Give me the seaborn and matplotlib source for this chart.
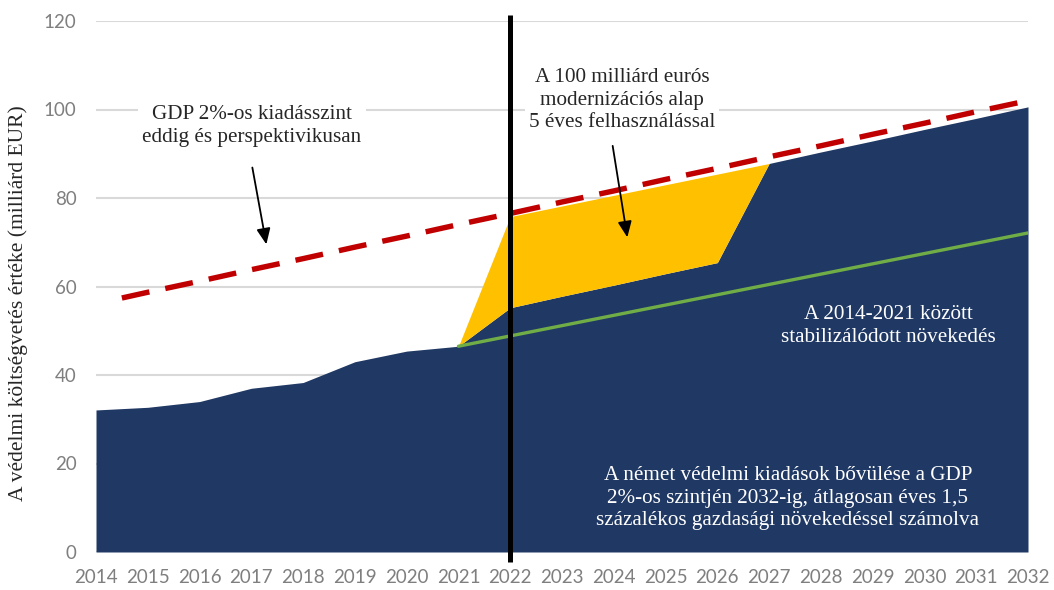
import numpy as np
import pandas as pd
import matplotlib
matplotlib.use("Agg")
import matplotlib.pyplot as plt
import seaborn as sns

# ---- data (billion EUR) ----
years = list(range(2014, 2033))
base_spend = [32.1, 32.7, 34.0, 37.0, 38.3, 43.0, 45.4, 46.5, 55.2, 57.8, 60.3,
              62.9, 65.4, 87.8, 90.4, 92.9, 95.5, 98.0, 100.6]
fund_years = [2021, 2022, 2023, 2024, 2025, 2026, 2027]
fund_top = [46.5, 75.8, 78.2, 80.6, 83.0, 85.4, 87.8]
gdp2_years = [2014.5] + list(range(2015, 2033))
gdp2_level = [57.4, 58.7, 61.2, 63.8, 66.3, 68.9, 71.4, 74.0, 76.5, 79.1, 81.6,
              84.2, 86.7, 89.3, 91.8, 94.4, 96.9, 99.5, 102.0]
trend_years = [2021, 2032]
trend_level = [46.5, 72.1]
cut_year = 2022
y_ticks = [0, 20, 40, 60, 80, 100, 120]

txt_gdp = "GDP 2%-os kiadásszint\neddig és perspektivikusan"
txt_fund = "A 100 milliárd eurós\nmodernizációs alap\n5 éves felhasználással"
txt_trend = "A 2014-2021 között\nstabilizálódott növekedés"
txt_main = ("A német védelmi kiadások bővülése a GDP\n"
            "2%-os szintjén 2032-ig, átlagosan éves 1,5\n"
            "százalékos gazdasági növekedéssel számolva")
ylabel = "A védelmi költségvetés értéke (milliárd EUR)"

NAVY = "#1f3864"
YELLOW = "#ffc000"
RED = "#c00000"
GREEN = "#70ad47"
GRID = "#d9d9d9"
TICK = "#7f7f7f"

sns.set_theme(style="white")
plt.rcParams["font.family"] = ["Lato", "DejaVu Sans"]
SERIF = ["Liberation Serif", "DejaVu Serif"]

fig = plt.figure(figsize=(10.54, 5.90), dpi=100)
ax = fig.add_axes([96 / 1054, 1 - 552 / 590, (1028 - 96) / 1054, (552 - 21) / 590])

base_df = pd.DataFrame({"year": years, "value": base_spend})
fund_df = pd.DataFrame({"year": fund_years, "value": fund_top})
fund_df["lower"] = fund_df["year"].map(dict(zip(years, base_spend)))
gdp_df = pd.DataFrame({"year": gdp2_years, "value": gdp2_level})
trend_df = pd.DataFrame({"year": trend_years, "value": trend_level})

# gridlines
for t in y_ticks:
    ax.axhline(t, color=GRID, lw=1.5, zorder=0)

ax.fill_between(base_df["year"], 0, base_df["value"], color=NAVY, lw=0, zorder=2)
ax.fill_between(fund_df["year"], fund_df["lower"], fund_df["value"], color=YELLOW,
                lw=0, zorder=2.5)

sns.lineplot(data=trend_df, x="year", y="value", color=GREEN, lw=2.4, ax=ax, zorder=3)
sns.lineplot(data=gdp_df, x="year", y="value", color=RED, lw=3.9, ax=ax, zorder=4,
             dashes=False)
ax.lines[-1].set_dashes([5.2, 3.0])

ax.plot([cut_year, cut_year], [-2.3, 121.3], color="black", lw=3.6, zorder=6,
        clip_on=False, solid_capstyle="butt")

ax.set_xlim(2014, 2032)
ax.set_ylim(0, 120)
ax.set_xticks(years)
ax.set_xticklabels([str(y) for y in years])
ax.set_yticks(y_ticks)
ax.tick_params(axis="both", length=0, labelsize=13.5, labelcolor=TICK)
ax.tick_params(axis="y", pad=14)
ax.tick_params(axis="x", pad=12)
ax.set_xlabel("")
ax.set_ylabel("")
for s in ax.spines.values():
    s.set_visible(False)

fig.text(18 / 1054, 1 - 303 / 590, ylabel, rotation=90, ha="center", va="center",
         fontsize=15.5, family=SERIF, color="#262626")

ax.text(2017.01, 96.3, txt_gdp, ha="center", va="center", fontsize=15.2,
        family=SERIF, color="#262626", linespacing=1.25, zorder=7,
        bbox=dict(facecolor="white", edgecolor="none", pad=3))
ax.text(2024.16, 102.1, txt_fund, ha="center", va="center", fontsize=15.2,
        family=SERIF, color="#262626", linespacing=1.25, zorder=7,
        bbox=dict(facecolor="white", edgecolor="none", pad=3))
ax.text(2029.30, 51.1, txt_trend, ha="center", va="center", fontsize=15.2,
        family=SERIF, color="white", linespacing=1.25, zorder=7)
ax.text(2027.36, 12.2, txt_main, ha="center", va="center", fontsize=15.2,
        family=SERIF, color="white", linespacing=1.25, zorder=7)

arrow = dict(arrowstyle="-|>,head_length=0.8,head_width=0.35", color="black", lw=1.3)
ax.annotate("", xy=(2017.30, 68.9), xytext=(2017.01, 87.5), arrowprops=arrow, zorder=7)
ax.annotate("", xy=(2024.27, 70.5), xytext=(2023.97, 92.4), arrowprops=arrow, zorder=7)

fig.savefig("out.png", dpi=100)
